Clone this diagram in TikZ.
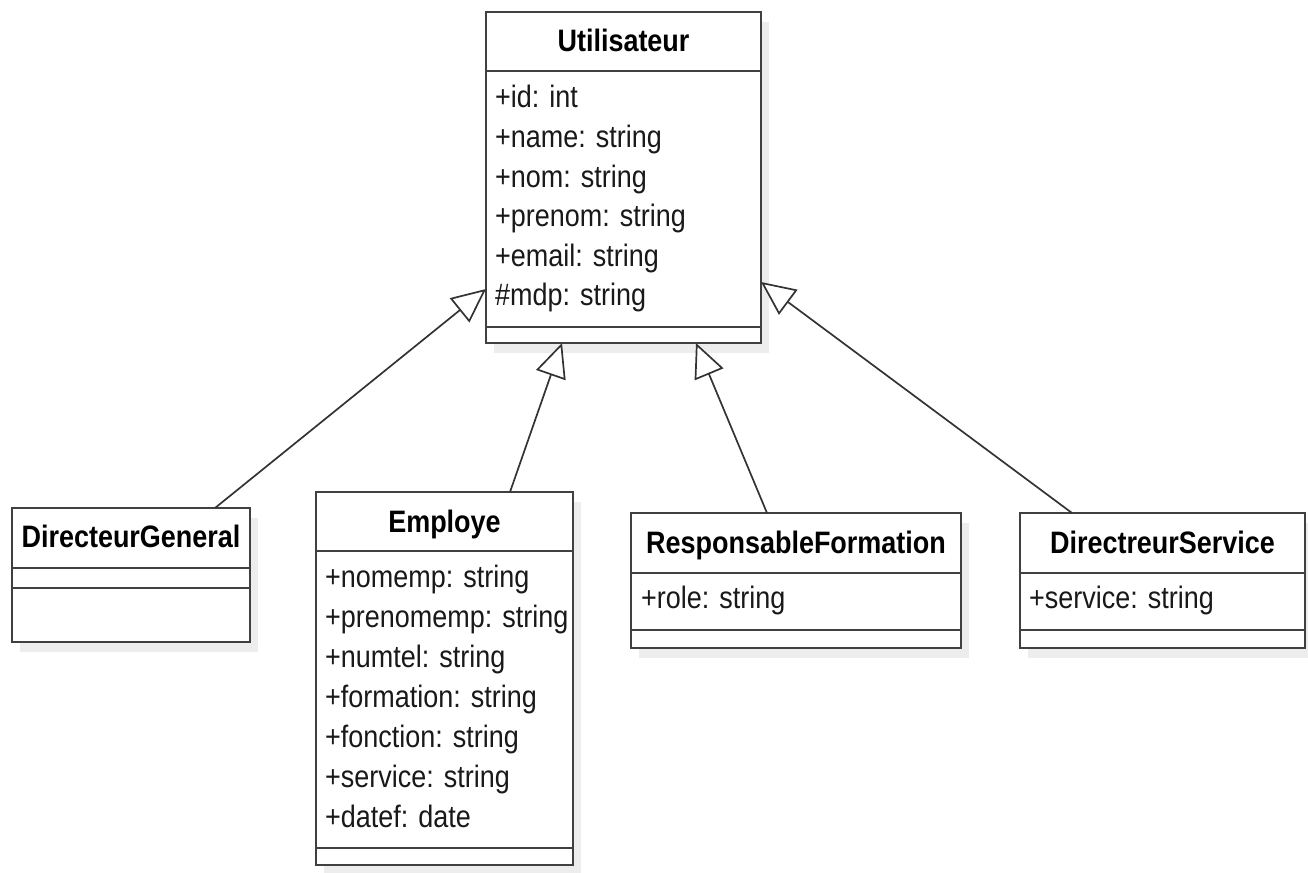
\documentclass[tikz,border=0pt]{standalone}
\usepackage{fontspec}
\setmainfont{Liberation Sans}[FakeStretch=0.87]
\usetikzlibrary{arrows.meta}
\begin{document}
\begin{tikzpicture}[x=1pt,y=-1pt,
  classbox/.style={draw=black!75, line width=2.2pt, fill=white, anchor=north west, inner sep=0pt, outer sep=0pt},
  shade/.style={fill=black!7},
  sep/.style={draw=black!75, line width=2.2pt},
  ttl/.style={font=\fontsize{31}{37}\selectfont\bfseries, inner sep=0pt, anchor=base},
  attr/.style={font=\fontsize{31}{37}\selectfont, inner sep=0pt, anchor=base west, text=black!90},
  inh/.style={draw=black!80, line width=1.7pt, -{Triangle[length=34pt, width=31pt, fill=white]}}]
\useasboundingbox (0,0) rectangle (1308,872);
% shadows
\fill[shade] (494,22) rectangle (769,353);
\fill[shade] (20,518) rectangle (258,652);
\fill[shade] (324,502) rectangle (581,875);
\fill[shade] (639,523) rectangle (969,658);
\fill[shade] (1028,523) rectangle (1313,658);
% Utilisateur
\node[classbox, minimum width=275pt, minimum height=331pt] (u) at (486,12) {};
\draw[sep] (486,71) -- (761,71);
\draw[sep] (486,327) -- (761,327);
\node[ttl] (ut) at (623.5,52) {Utilisateur};
\node[attr] (u1) at (495,107) {+id: int};
\node[attr] (u2) at (495,147) {+name: string};
\node[attr] (u3) at (495,187) {+nom: string};
\node[attr] (u4) at (495,226) {+prenom: string};
\node[attr] (u5) at (495,266) {+email: string};
\node[attr] (u6) at (495,305) {\#mdp: string};
% DirecteurGeneral
\node[classbox, minimum width=238pt, minimum height=134pt] (dg) at (12,508) {};
\draw[sep] (12,568) -- (250,568);
\draw[sep] (12,588) -- (250,588);
\node[ttl] (dgt) at (131,547) {DirecteurGeneral};
% Employe
\node[classbox, minimum width=257pt, minimum height=373pt] (e) at (316,492) {};
\draw[sep] (316,551) -- (573,551);
\draw[sep] (316,848) -- (573,848);
\node[ttl] (et) at (444.5,532) {Employe};
\node[attr] (e1) at (325,587) {+nomemp: string};
\node[attr] (e2) at (325,627) {+prenomemp: string};
\node[attr] (e3) at (325,667) {+numtel: string};
\node[attr] (e4) at (325,707) {+formation: string};
\node[attr] (e5) at (325,747) {+fonction: string};
\node[attr] (e6) at (325,787) {+service: string};
\node[attr] (e7) at (325,827) {+datef: date};
% ResponsableFormation
\node[classbox, minimum width=330pt, minimum height=135pt] (rf) at (631,513) {};
\draw[sep] (631,573) -- (961,573);
\draw[sep] (631,630) -- (961,630);
\node[ttl] (rft) at (796,553) {ResponsableFormation};
\node[attr] (rf1) at (641,608) {+role: string};
% DirectreurService
\node[classbox, minimum width=285pt, minimum height=135pt] (ds) at (1020,513) {};
\draw[sep] (1020,573) -- (1305,573);
\draw[sep] (1020,630) -- (1305,630);
\node[ttl] (dst) at (1162.5,553) {DirectreurService};
\node[attr] (ds1) at (1029,608) {+service: string};
% connectors
\coordinate (dgT) at (215,508);
\coordinate (uDG) at (486,289);
\coordinate (eT) at (510,492);
\coordinate (uE) at (562,343);
\coordinate (rfT) at (767,513);
\coordinate (uRF) at (696,343);
\coordinate (dsT) at (1072,513);
\coordinate (uDS) at (761,282);
\draw[inh] (dgT) -- (uDG);
\draw[inh] (eT) -- (uE);
\draw[inh] (rfT) -- (uRF);
\draw[inh] (dsT) -- (uDS);
\end{tikzpicture}
\end{document}
